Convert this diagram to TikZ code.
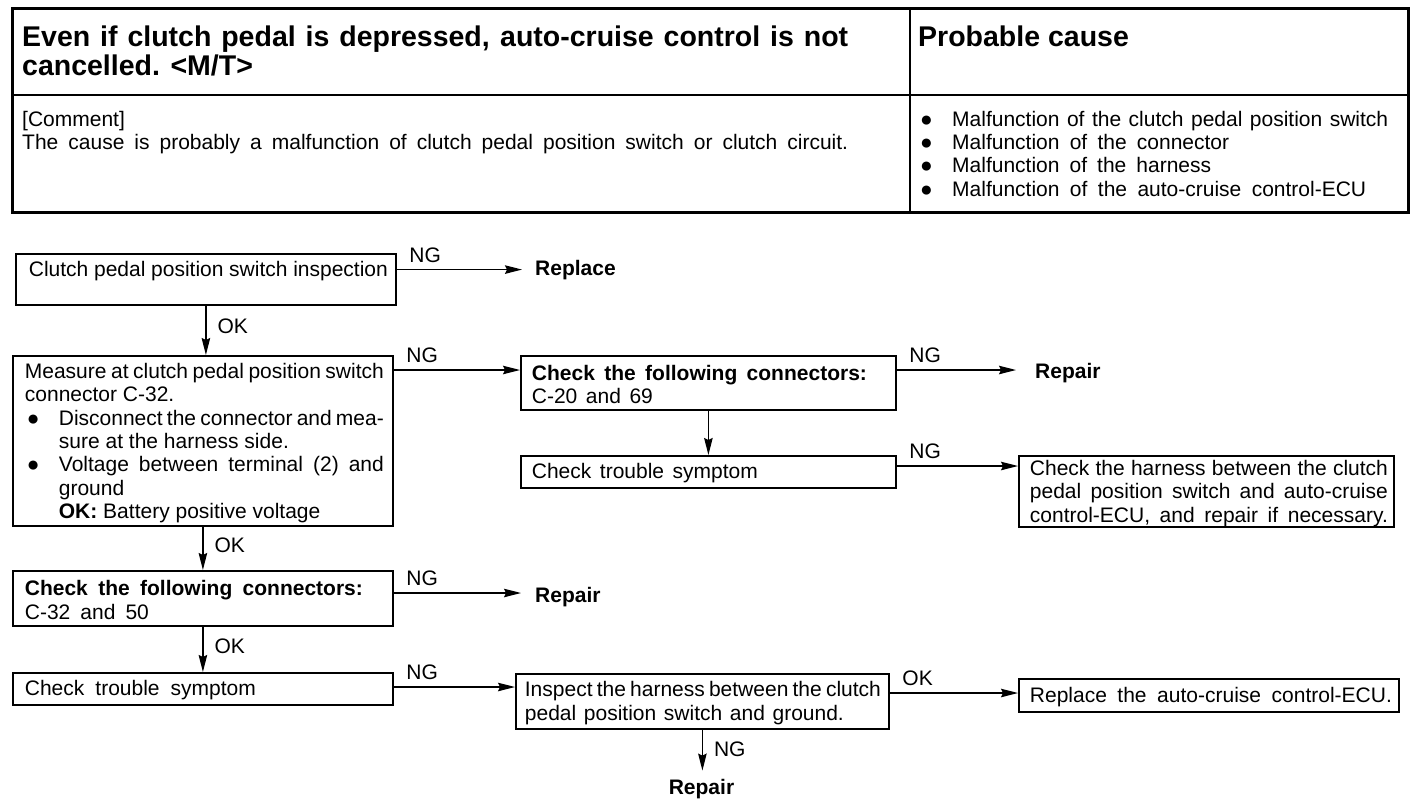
\documentclass[tikz,border=0pt]{standalone}
\usepackage{fontspec}
\setmainfont{Liberation Sans}
\usetikzlibrary{arrows.meta,calc}
\newcommand\bodyfont{\fontsize{21}{23.4}\selectfont\spaceskip=.278em plus 1em minus .12em\relax}
\newcommand\titlefont{\fontsize{28.5}{29}\selectfont\bfseries\spaceskip=.278em plus 1em minus .1em\relax}
\newlength\lp \newlength\tw
\newcommand\bx[6]{\begin{minipage}[t][#2pt][t]{#1pt}\bodyfont\setlength\lp{#4pt}\setlength\tw{\dimexpr #1pt-#4pt-#5pt\relax}\vspace*{#3pt}#6\par\nointerlineskip\hbox to\hsize{}\end{minipage}}
\newcommand\jline[2][0pt]{\hbox{\hskip\lp\hbox to\tw{\hskip#1\relax\makebox[\dimexpr\tw-#1\relax][s]{\strut#2}}}}
\newcommand\lline[2][0pt]{\hbox{\hskip\lp\hbox to\tw{\hskip#1\relax\strut#2\hfil}}}
\newcommand\wline[2]{\hbox{\hskip\lp\makebox[#1pt][s]{\strut#2}}}
\newcommand\bigbul{\raisebox{0pt}{\fontsize{21}{21}\selectfont ●}}
\newcommand\bul{\llap{\makebox[34pt][l]{\hspace{2pt}\bigbul}}}
\newcommand\cause[2]{\makebox[31pt][l]{\hspace{-1pt}\bigbul}\makebox[#1pt][s]{#2}}
\begin{document}
\begin{tikzpicture}[x=1pt,y=-1pt,
  box/.style={draw,line width=1.8pt,inner sep=0pt,anchor=north west},
  arr/.style={line width=1.3pt,-{Stealth[length=17pt,width=8.5pt,inset=2pt]}},
  lbl/.style={inner sep=0pt,font=\bodyfont},
  nglbl/.style={lbl,pos=0,anchor=south west,xshift=12pt,yshift=6.5pt},
  oklbl/.style={lbl,pos=0.42,anchor=west,xshift=11pt},
  term/.style={inner sep=0pt,anchor=base west,font=\bodyfont\bfseries}]
\useasboundingbox (0,0) rectangle (1424,806);
% header table
\draw[line width=3pt] (12,8) rectangle (1408,212);
\draw[line width=1.5pt] (12,95) -- (1408,95);
\draw[line width=1.2pt] (910,8) -- (910,212);
\node[anchor=base west,inner sep=0pt] (title) at (22,46) {\parbox[t]{826pt}{\titlefont\makebox[826pt][s]{Even if clutch pedal is depressed, auto-cruise control is not}\\cancelled. <M/T>}};
\node[anchor=base west,inner sep=0pt] (pc) at (918,46) {\titlefont Probable cause};
\node[anchor=base west,inner sep=0pt] (cmt) at (22,126) {\parbox[t]{826pt}{\bodyfont [Comment]\\\makebox[826pt][s]{The cause is probably a malfunction of clutch pedal position switch or clutch circuit.}}};
\node[anchor=base west,inner sep=0pt] (causes) at (921,126) {\parbox[t]{480pt}{\bodyfont
\cause{436}{Malfunction of the clutch pedal position switch}\\
\cause{277}{Malfunction of the connector}\\
\cause{259}{Malfunction of the harness}\\
\cause{414}{Malfunction of the auto-cruise control-ECU}}};
% flow boxes
\node[box] (b1) at (15,253) {\bx{380}{51}{6}{13}{8}{\lline{Clutch pedal position switch inspection}}};
\node[box] (b2) at (12,355) {\bx{380}{170}{6}{12}{9}{%
\jline{Measure at clutch pedal position switch}
\lline{connector C-32.}
\jline[34pt]{\bul Disconnect the connector and mea-}
\lline[34pt]{sure at the harness side.}
\jline[34pt]{\bul Voltage between terminal (2) and}
\lline[34pt]{ground}
\lline[34pt]{\textbf{OK:} Battery positive voltage}}};
\node[box] (b3) at (520,355) {\bx{375}{54}{8}{11}{8}{\wline{335}{\textbf{Check the following connectors:}}\wline{121}{C-20 and 69}}};
\node[box] (b4) at (520,455) {\bx{375}{32}{6.5}{11}{8}{\wline{226}{Check trouble symptom}}};
\node[box] (b5) at (1018,455) {\bx{375}{71}{3}{11}{6}{%
\jline{Check the harness between the clutch}
\jline{pedal position switch and auto-cruise}
\jline{control-ECU, and repair if necessary.}}};
\node[box] (b6) at (12,570) {\bx{380}{55}{8.6}{12}{9}{\wline{338}{\textbf{Check the following connectors:}}\wline{124}{C-32 and 50}}};
\node[box] (b7) at (12,672) {\bx{380}{32}{6.5}{12}{9}{\wline{231}{Check trouble symptom}}};
\node[box] (b8) at (515,673) {\bx{373}{55}{6.5}{9}{8}{%
\jline{Inspect the harness between the clutch}
\wline{319}{pedal position switch and ground.}}};
\node[box] (b9) at (1018,678) {\bx{380}{33}{7.5}{11}{6}{\wline{362}{Replace the auto-cruise control-ECU.}}};
% terminal texts
\node[term] (rp1) at (535,275) {Replace};
\node[term] (rp2) at (1035,378) {Repair};
\node[term] (rp3) at (535,602) {Repair};
\node[term,anchor=base] (rp4) at (701.5,794) {Repair};
% connectors
\draw[arr,shorten >=13pt] (b1.east |- rp1.west) -- node[nglbl]{NG} (rp1.west);
\draw[arr] (b1.south) -- node[oklbl]{OK} (b1.south |- b2.north);
\draw[arr] ($(b2.north east)+(0,15)$) coordinate (s2) -- node[nglbl]{NG} (s2 -| b3.west);
\draw[arr,shorten >=19pt] ($(b3.north east)+(0,15)$) coordinate (s3) -- node[nglbl]{NG} (s3 -| rp2.west);
\draw[arr] (b3.south) -- (b4.north);
\draw[arr] ($(b4.north east)+(0,11)$) coordinate (s4) -- node[nglbl]{NG} (s4 -| b5.west);
\draw[arr] (b2.south) -- node[oklbl]{OK} (b6.north);
\draw[arr,shorten >=14pt] ($(b6.north east)+(0,23)$) coordinate (s6) -- node[nglbl]{NG} (s6 -| rp3.west);
\draw[arr] (b6.south) -- node[oklbl]{OK} (b7.north);
\draw[arr] ($(b7.north east)+(0,15)$) coordinate (s7) -- node[nglbl]{NG} (s7 -| b8.west);
\draw[arr] ($(b8.north east)+(0,20)$) coordinate (s8) -- node[nglbl]{OK} (s8 -| b9.west);
\draw[arr,shorten >=8pt] (b8.south) -- node[oklbl,pos=0.4]{NG} (b8.south |- rp4.north);
\end{tikzpicture}
\end{document}
